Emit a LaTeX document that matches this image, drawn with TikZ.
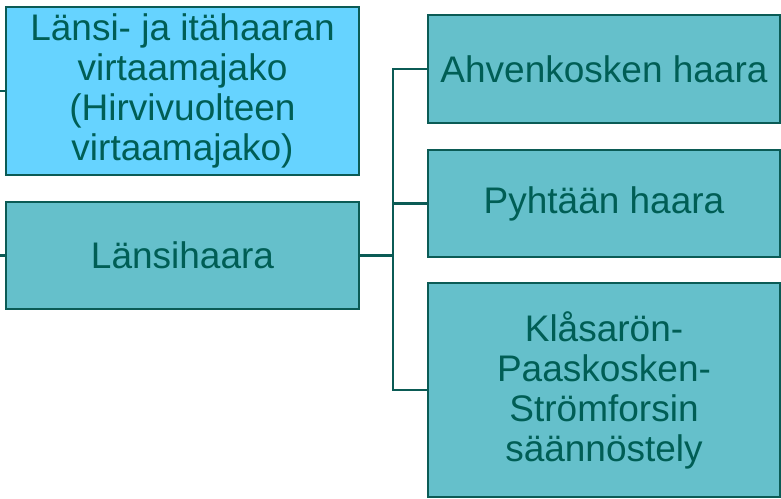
\documentclass[tikz,border=0pt]{standalone}
\usepackage{fontspec}
\setmainfont{Liberation Sans}
\usetikzlibrary{calc}
\definecolor{ink}{HTML}{0B5B55}
\definecolor{txt}{HTML}{005E55}
\definecolor{sky}{HTML}{66D3FF}
\definecolor{teal}{HTML}{65C0CB}

\begin{document}
\begin{tikzpicture}[
    x=1pt, y=1pt,
    line cap=butt, line join=miter,
    box/.style={draw=ink, line width=2.2pt, fill=teal, text=txt,
        inner sep=0pt, align=center, minimum width=353pt,
        font=\fontsize{37}{40}\selectfont},
    conn/.style={ink, line width=2.3pt},
]
\useasboundingbox (0,0) rectangle (781,498);

% Left column
\node[box, fill=sky, minimum height=168pt] (jako) at (182.5,407)
    {Länsi- ja itähaaran\\virtaamajako\\(Hirvivuolteen\\virtaamajako)};
\node[box, minimum height=107pt] (lansi) at (182.5,242.5) {Länsihaara};

% Right column
\node[box, minimum width=352pt, minimum height=108pt] (ahven) at (604,429)
    {Ahvenkosken haara};
\node[box, minimum width=352pt, minimum height=107pt] (pyhtaa) at (604,294.5)
    {Pyhtään haara};
\node[box, minimum width=352pt, minimum height=214pt] (klasa) at (604,108)
    {Klåsarön-\\Paaskosken-\\Strömforsin\\säännöstely};

% Stubs from the left edge
\coordinate (inA) at (0,407);
\coordinate (inB) at (0,242.5);
\draw[conn] (inA) -- (jako.west);
\draw[conn] (inB) -- (lansi.west);

% Fork
\coordinate (fork) at (393,242.5);
\draw[conn] (lansi.east) -- (fork);
\draw[conn] (ahven.west) -- (fork |- ahven.west) |- (klasa.west);
\draw[conn] (fork |- pyhtaa.west) -- (pyhtaa.west);

\end{tikzpicture}
\end{document}
